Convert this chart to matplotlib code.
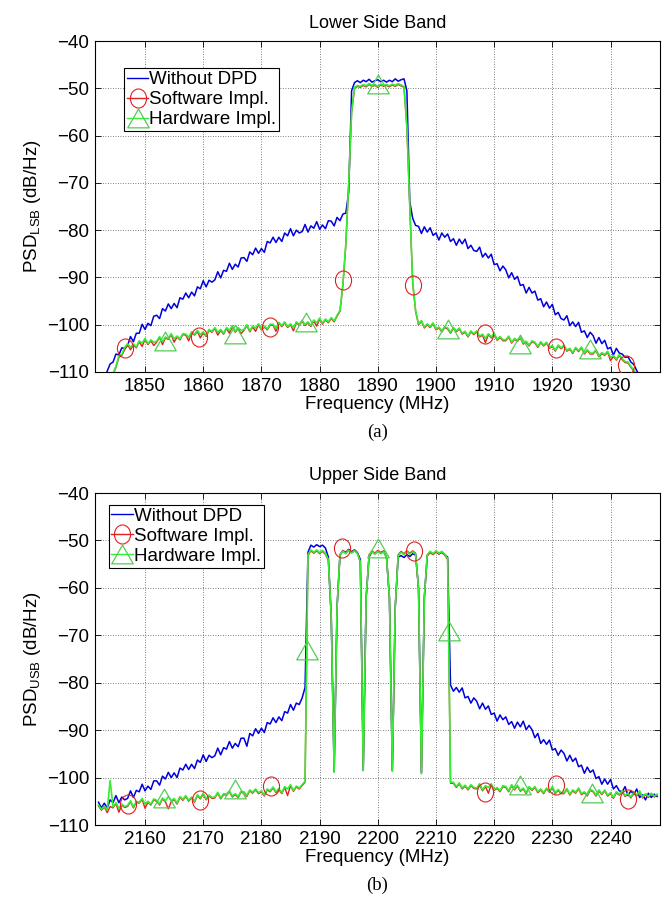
import numpy as np
import matplotlib
matplotlib.use("Agg")
import matplotlib.pyplot as plt
from matplotlib.lines import Line2D
from matplotlib.path import Path
import matplotlib.transforms as mtrans

plt.rcParams['font.family'] = ['Liberation Sans', 'DejaVu Sans']
plt.rcParams['mathtext.fontset'] = 'custom'
plt.rcParams['mathtext.rm'] = 'Liberation Sans'
plt.rcParams['mathtext.it'] = 'Liberation Sans'

# ---------------- Lower side band (0.5 MHz grid from 1842 MHz) ----------------
lsb_start = 1842.0
lsb_blue = [
    -114.0, -113.0, -111.5, -109.8, -108.3, -107.9, -106.2, -106.4, -104.9, -105.0,
    -104.4, -102.5, -103.6, -101.8, -101.8, -99.9, -101.0, -99.7, -100.2, -98.2,
    -98.0, -98.7, -96.6, -97.1, -95.6, -96.6, -95.5, -96.4, -94.3, -94.6,
    -93.3, -94.3, -93.1, -93.9, -92.0, -92.4, -90.7, -92.0, -90.6, -91.0,
    -90.5, -88.8, -90.1, -88.5, -88.7, -87.0, -88.3, -87.2, -87.8, -85.9,
    -85.8, -86.6, -84.6, -85.2, -83.8, -84.9, -83.9, -84.7, -82.4, -82.7,
    -81.5, -82.6, -81.5, -82.4, -80.6, -81.2, -79.7, -81.2, -80.0, -80.6,
    -80.3, -78.8, -80.4, -79.1, -79.6, -78.2, -79.8, -78.9, -79.7, -78.0,
    -78.1, -79.1, -77.3, -78.0, -76.6, -76.4, -72.0, -50.5, -48.8, -48.4,
    -48.8, -48.3, -48.6, -48.1, -48.7, -48.4, -48.2, -48.6, -48.3, -48.7,
    -48.3, -48.6, -48.0, -48.5, -48.2, -48.0, -50.5, -74.0, -77.5, -79.0,
    -79.2, -80.7, -79.3, -80.4, -79.5, -81.1, -80.6, -82.1, -80.6, -81.5,
    -80.8, -82.4, -81.8, -83.2, -81.9, -82.9, -81.9, -83.9, -83.2, -84.3,
    -84.5, -83.6, -85.7, -84.9, -85.9, -85.1, -87.3, -87.1, -88.6, -87.6,
    -88.4, -90.1, -89.0, -90.4, -89.8, -91.7, -91.5, -93.3, -92.1, -93.3,
    -92.9, -94.8, -94.5, -96.2, -95.2, -96.5, -95.7, -97.9, -97.4, -98.7,
    -99.0, -98.1, -100.2, -99.4, -100.4, -99.5, -101.6, -101.3, -102.7, -101.6,
    -102.3, -103.9, -102.7, -104.0, -103.3, -105.1, -104.8, -106.4, -105.0, -106.0,
    -106.2, -106.9, -106.8, -107.9, -108.4, -109.7, -110.8, -112.0, -113.0, -114.0,
    -115.0,
]
lsb_red = [
    -116.3, -115.2, -114.2, -113.1, -112.2, -110.6, -109.0, -106.9, -106.5, -105.3,
    -104.2, -105.3, -104.3, -104.9, -103.6, -104.6, -103.1, -104.2, -103.4, -104.4,
    -103.7, -102.7, -104.2, -102.8, -103.1, -102.1, -103.7, -102.6, -103.2, -102.1,
    -102.2, -103.4, -101.7, -102.2, -101.4, -102.8, -101.7, -102.5, -101.2, -101.6,
    -100.8, -102.2, -101.2, -102.0, -100.8, -101.8, -100.4, -101.6, -100.8, -101.9,
    -101.2, -100.2, -101.5, -100.5, -101.4, -100.0, -101.1, -100.5, -101.1, -100.1,
    -100.1, -101.4, -99.7, -100.4, -99.6, -100.6, -100.0, -101.3, -99.6, -100.1,
    -99.3, -100.2, -99.6, -100.4, -99.2, -100.3, -98.8, -99.9, -99.0, -99.6,
    -98.7, -99.4, -98.2, -97.2, -91.7, -83.2, -70.2, -55.2, -50.0, -49.6,
    -49.8, -49.4, -49.7, -49.2, -49.6, -49.4, -49.8, -49.3, -49.6, -49.4,
    -49.7, -49.3, -49.6, -49.2, -49.5, -49.8, -58.2, -75.2, -91.2, -97.2,
    -100.0, -99.3, -100.7, -100.0, -100.6, -99.8, -101.1, -100.7, -101.5, -100.6,
    -100.9, -101.8, -100.8, -101.5, -100.9, -102.0, -101.6, -102.6, -101.5, -102.1,
    -101.5, -102.6, -102.2, -103.8, -102.1, -102.8, -102.0, -103.3, -102.7, -103.4,
    -103.4, -102.6, -103.9, -103.1, -103.5, -102.8, -104.1, -103.7, -104.5, -103.6,
    -103.9, -104.8, -103.8, -104.5, -103.9, -105.0, -104.6, -105.6, -104.5, -105.1,
    -104.5, -105.6, -105.2, -106.1, -105.0, -105.7, -104.9, -106.2, -105.5, -106.2,
    -106.2, -105.5, -106.8, -106.1, -106.5, -105.8, -107.6, -106.7, -107.5, -106.5,
    -107.4, -108.0, -108.1, -109.0, -109.8, -110.7, -111.7, -112.7, -113.7, -114.7,
    -115.7,
]
lsb_green = [
    -116.0, -115.0, -114.0, -113.0, -112.0, -110.3, -108.8, -106.6, -106.3, -104.8,
    -104.0, -104.8, -104.1, -104.7, -103.4, -103.9, -102.9, -104.0, -103.2, -103.7,
    -103.5, -102.5, -103.6, -102.6, -102.9, -101.9, -103.0, -102.4, -103.0, -101.9,
    -102.0, -102.7, -101.5, -102.0, -101.2, -102.1, -101.5, -102.3, -101.0, -101.4,
    -100.6, -101.6, -101.0, -101.8, -100.6, -101.2, -100.2, -101.4, -100.6, -101.2,
    -101.0, -100.0, -101.3, -100.3, -100.7, -99.8, -100.9, -100.3, -100.9, -99.9,
    -99.9, -100.8, -99.5, -100.2, -99.4, -100.4, -99.8, -100.7, -99.4, -99.9,
    -99.1, -100.0, -99.4, -100.2, -99.0, -99.6, -98.6, -99.7, -98.8, -99.4,
    -98.5, -99.2, -98.0, -97.0, -91.5, -83.0, -70.0, -55.0, -49.8, -49.4,
    -49.6, -49.2, -49.5, -49.0, -49.4, -49.2, -49.6, -49.1, -49.4, -49.2,
    -49.5, -49.1, -49.4, -49.0, -49.3, -49.6, -58.0, -75.0, -91.0, -97.0,
    -99.8, -99.1, -100.5, -99.8, -100.4, -99.6, -100.9, -100.5, -101.3, -100.4,
    -100.7, -101.6, -100.6, -101.3, -100.7, -101.8, -101.4, -102.4, -101.3, -101.9,
    -101.3, -102.4, -102.0, -102.9, -101.9, -102.6, -101.8, -103.1, -102.5, -103.2,
    -103.2, -102.4, -103.7, -102.9, -103.3, -102.6, -103.9, -103.5, -104.3, -103.4,
    -103.7, -104.6, -103.6, -104.3, -103.7, -104.8, -104.4, -105.4, -104.3, -104.9,
    -104.3, -105.4, -105.0, -105.9, -104.8, -105.5, -104.7, -106.0, -105.3, -106.0,
    -106.0, -105.3, -106.6, -105.9, -106.3, -105.6, -106.9, -106.5, -107.3, -106.3,
    -107.2, -107.8, -107.9, -108.8, -109.6, -110.5, -111.5, -112.5, -113.5, -114.5,
    -115.5,
]
lsb_circ_f = [1846.5, 1859.3, 1871.5, 1884.0, 1896.1, 1908.4, 1920.6, 1932.6]
lsb_circ_v = [-105.0, -102.5, -100.5, -90.6, -91.5, -102.0, -105.0, -108.5]
lsb_tri_f = [1853.4, 1865.5, 1877.6, 1890.0, 1902.1, 1914.4, 1926.5]
lsb_tri_v = [-103.5, -102.0, -99.5, -49.0, -101.0, -104.0, -105.2]

# ---------------- Upper side band (0.5 MHz grid from 2152 MHz) ----------------
usb_start = 2152.0
usb_blue = [
    -105.2, -106.4, -105.4, -106.4, -104.7, -105.3, -103.8, -105.3, -104.1, -104.7,
    -104.4, -102.8, -104.2, -102.7, -103.0, -101.4, -102.8, -101.8, -102.5, -100.7,
    -100.7, -101.6, -99.7, -100.3, -98.9, -100.0, -99.0, -100.0, -98.0, -98.4,
    -97.2, -98.3, -97.2, -98.1, -96.3, -96.8, -95.2, -96.6, -95.3, -95.8,
    -95.4, -93.8, -95.2, -93.7, -94.0, -92.4, -93.8, -92.8, -93.5, -91.7,
    -91.7, -93.4, -90.7, -91.2, -89.7, -90.7, -89.6, -90.5, -88.4, -88.7,
    -87.4, -88.4, -87.2, -88.0, -86.1, -86.4, -84.6, -85.8, -84.3, -84.6,
    -83.2, -81.0, -52.5, -51.0, -51.4, -50.9, -51.3, -51.0, -51.6, -53.5,
    -66.0, -98.8, -64.0, -53.0, -52.2, -52.5, -51.9, -52.4, -52.0, -52.6,
    -54.0, -98.5, -62.0, -53.5, -52.4, -52.8, -52.2, -52.6, -52.3, -53.5,
    -62.0, -98.5, -64.0, -53.5, -53.2, -53.6, -53.0, -53.4, -52.8, -53.1,
    -60.0, -99.0, -62.0, -53.2, -52.5, -52.9, -52.4, -52.8, -52.5, -53.0,
    -53.5, -80.5, -81.8, -81.0, -82.0, -81.1, -83.2, -82.9, -84.3, -83.2,
    -83.9, -85.5, -84.3, -85.6, -84.9, -86.7, -86.4, -88.1, -86.8, -87.8,
    -87.2, -88.8, -88.2, -89.6, -88.3, -89.3, -88.1, -89.9, -89.0, -89.9,
    -91.6, -90.7, -92.8, -92.0, -93.0, -92.1, -94.2, -93.9, -95.3, -94.2,
    -94.9, -96.5, -95.3, -96.6, -95.9, -97.7, -97.4, -99.1, -97.8, -98.9,
    -98.4, -100.2, -99.8, -101.4, -100.3, -101.4, -100.4, -102.4, -101.7, -102.8,
    -103.0, -101.9, -103.8, -102.8, -103.6, -102.4, -104.2, -103.6, -104.7, -103.3,
    -104.2, -103.5, -104.0,
]
usb_red = [
    -106.0, -106.9, -106.2, -107.4, -106.1, -106.4, -105.5, -107.3, -105.8, -106.3,
    -106.1, -105.1, -106.4, -105.2, -105.4, -104.6, -106.5, -105.2, -105.8, -104.7,
    -105.0, -105.8, -104.5, -105.1, -106.6, -105.1, -104.6, -105.6, -104.2, -104.8,
    -104.0, -105.0, -104.3, -105.2, -103.8, -104.5, -103.5, -104.7, -103.9, -104.4,
    -104.3, -103.3, -104.5, -103.6, -103.7, -103.0, -104.1, -103.6, -104.2, -103.1,
    -103.2, -104.0, -102.8, -103.3, -102.6, -103.4, -103.0, -103.9, -102.6, -103.0,
    -102.2, -103.2, -102.5, -103.4, -102.1, -103.8, -101.7, -102.9, -102.0, -102.4,
    -101.7, -101.0, -53.2, -52.2, -52.7, -52.2, -52.8, -52.3, -52.9, -54.2,
    -66.2, -98.6, -64.2, -53.2, -52.1, -52.6, -51.9, -52.5, -52.0, -52.6,
    -54.7, -98.3, -62.2, -53.0, -52.2, -52.7, -52.1, -52.6, -52.2, -53.7,
    -62.2, -98.5, -64.2, -53.0, -52.3, -52.8, -52.2, -52.7, -52.2, -52.7,
    -60.2, -99.0, -62.2, -53.2, -52.5, -53.0, -52.4, -52.9, -52.5, -53.1,
    -54.0, -101.2, -101.2, -102.1, -101.3, -102.4, -101.8, -102.6, -101.7, -102.3,
    -102.4, -101.5, -102.8, -101.9, -103.3, -101.5, -102.7, -102.3, -103.0, -101.9,
    -102.1, -103.0, -101.7, -102.6, -101.8, -102.9, -102.4, -103.4, -102.1, -102.7,
    -102.1, -103.2, -102.6, -103.4, -102.4, -103.1, -102.1, -103.4, -102.7, -103.4,
    -103.4, -102.5, -103.7, -102.8, -103.3, -102.4, -103.6, -103.2, -103.9, -102.7,
    -103.0, -103.9, -102.8, -103.6, -102.8, -103.9, -103.4, -104.4, -103.2, -103.7,
    -103.0, -104.0, -103.5, -104.3, -103.3, -103.9, -103.0, -104.3, -103.6, -104.2,
    -103.5, -104.1, -103.7,
]
usb_green = [
    -105.8, -106.7, -106.0, -106.9, -100.6, -106.2, -105.3, -106.5, -105.6, -106.1,
    -105.9, -104.9, -106.2, -105.0, -105.2, -104.4, -105.6, -105.0, -105.6, -104.5,
    -104.8, -105.6, -104.3, -104.9, -104.0, -104.9, -104.4, -105.4, -104.0, -104.6,
    -103.8, -104.8, -104.1, -105.0, -103.6, -104.3, -103.3, -104.5, -103.7, -104.2,
    -104.1, -103.1, -104.3, -103.4, -103.5, -102.8, -103.9, -103.4, -104.0, -102.9,
    -103.0, -103.8, -102.6, -103.1, -102.4, -103.2, -102.8, -103.7, -102.4, -102.8,
    -102.0, -103.0, -102.3, -103.2, -101.9, -102.4, -101.5, -102.7, -101.8, -102.2,
    -101.5, -100.8, -53.0, -52.0, -52.5, -52.0, -52.6, -52.1, -52.7, -54.0,
    -66.0, -98.8, -64.0, -53.0, -52.3, -52.8, -52.1, -52.7, -52.2, -52.8,
    -54.5, -98.5, -62.0, -53.2, -52.4, -52.9, -52.3, -52.8, -52.4, -53.5,
    -62.0, -98.7, -64.0, -53.2, -52.5, -53.0, -52.4, -52.9, -52.4, -52.9,
    -60.0, -99.2, -62.0, -53.0, -52.3, -52.8, -52.2, -52.7, -52.3, -52.9,
    -53.8, -101.0, -101.0, -101.9, -101.1, -102.2, -101.6, -102.4, -101.5, -102.1,
    -102.2, -101.3, -102.6, -101.7, -102.1, -101.3, -102.5, -102.1, -102.8, -101.7,
    -101.9, -102.8, -101.5, -102.4, -101.6, -102.7, -102.2, -103.2, -101.9, -102.5,
    -101.9, -103.0, -102.4, -103.2, -102.2, -102.9, -101.9, -103.2, -102.5, -103.2,
    -103.2, -102.3, -103.5, -102.6, -103.1, -102.2, -103.4, -103.0, -103.7, -102.5,
    -102.8, -103.7, -102.6, -103.4, -102.6, -103.7, -103.2, -104.2, -103.0, -103.5,
    -102.8, -103.8, -103.3, -104.1, -103.1, -103.7, -102.8, -104.1, -103.4, -104.0,
    -103.3, -103.9, -103.5,
]
usb_circ_f = [2157.0, 2169.4, 2181.6, 2193.9, 2206.2, 2218.5, 2230.6, 2243.0]
usb_circ_v = [-105.5, -104.8, -101.8, -51.5, -52.3, -103.0, -101.5, -104.5]
usb_tri_f = [2163.3, 2175.5, 2187.8, 2200.0, 2212.3, 2224.5, 2236.8]
usb_tri_v = [-104.3, -102.5, -73.0, -51.5, -69.0, -101.5, -103.3]

yticks = [-40, -50, -60, -70, -80, -90, -100, -110]
lsb_xticks = [1850, 1860, 1870, 1880, 1890, 1900, 1910, 1920, 1930]
usb_xticks = [2160, 2170, 2180, 2190, 2200, 2210, 2220, 2230, 2240]
legend_labels = ['Without DPD', 'Software Impl.', 'Hardware Impl.']

C_BLUE = '#0000dd'
C_RED = '#e02020'
C_GREEN = '#33ee33'
C_TRI = '#55cc55'

# slightly tall circle and wide triangle markers (as in the original figure)
M_CIRC = Path.unit_circle().transformed(mtrans.Affine2D().scale(1.0, 1.18))
M_TRI = Path([(0, 1), (-1.15, -1), (1.15, -1), (0, 1)],
             [Path.MOVETO, Path.LINETO, Path.LINETO, Path.CLOSEPOLY])
MS_C = 13.7
MS_T = 15.5

fig = plt.figure(figsize=(6.68, 9.01), dpi=100)
ax1 = fig.add_axes([95/668, 1 - 372/901, 565/668, 331/901])
ax2 = fig.add_axes([95/668, 1 - 825/901, 565/668, 332/901])


def draw(ax, start, blue, red, green, cf, cv, tf, tv, xticks, xlim, title, sub, lab, leg_anchor):
    fb = start + 0.5 * np.arange(len(blue))
    fr = start + 0.5 * np.arange(len(red))
    fg = start + 0.5 * np.arange(len(green))
    ax.plot(fb, blue, color=C_BLUE, lw=1.1, zorder=2)
    ax.plot(fr, red, color=C_RED, lw=1.0, zorder=3)
    ax.plot(fg, green, color=C_GREEN, lw=1.2, zorder=4)
    ax.plot(cf, cv, ls='none', marker=M_CIRC, ms=MS_C, mfc='none', mec=C_RED, mew=0.8, zorder=5)
    ax.plot(tf, tv, ls='none', marker=M_TRI, ms=MS_T, mfc='none', mec=C_TRI, mew=0.9, zorder=5)
    ax.set_xlim(*xlim)
    ax.set_ylim(-110, -40)
    ax.set_xticks(xticks)
    ax.set_yticks(yticks)
    ax.set_yticklabels(['\u2212%d' % abs(v) for v in yticks])
    ax.tick_params(direction='in', top=True, right=True, labelsize=13.5, length=4, width=0.6,
                   pad=4)
    ax.grid(True, ls=(0, (1, 2)), color='#555555', lw=0.6)
    for s in ax.spines.values():
        s.set_linewidth(0.8)
    ax.set_title(title, fontsize=13, pad=9)
    ax.set_xlabel('Frequency (MHz)', fontsize=13.5, labelpad=1)
    ax.set_ylabel(lab, fontsize=13.5, labelpad=3)
    ax.text(0.5, -0.181, sub, transform=ax.transAxes, ha='center', va='center',
            fontsize=13.5, family='Liberation Serif')
    handles = [
        Line2D([], [], color=C_BLUE, lw=1.0),
        Line2D([], [], color=C_RED, lw=1.0, marker=M_CIRC, ms=MS_C, mfc='none', mec=C_RED, mew=0.8),
        Line2D([], [], color=C_GREEN, lw=1.0, marker=M_TRI, ms=MS_T, mfc='none', mec=C_TRI, mew=0.9),
    ]
    leg = ax.legend(handles, legend_labels, loc='upper left', bbox_to_anchor=leg_anchor,
                    fontsize=13.5, handlelength=1.15, handletextpad=0.05, borderpad=0.15,
                    labelspacing=0.15, borderaxespad=0, fancybox=False, framealpha=1,
                    edgecolor='black')
    leg.get_frame().set_linewidth(0.8)


draw(ax1, lsb_start, lsb_blue, lsb_red, lsb_green, lsb_circ_f, lsb_circ_v, lsb_tri_f, lsb_tri_v,
     lsb_xticks, (1841.4, 1938.5), 'Lower Side Band', '(a)',
     'PSD$_{\\mathrm{LSB}}$ (dB/Hz)', (0.0515, 0.917))
draw(ax2, usb_start, usb_blue, usb_red, usb_green, usb_circ_f, usb_circ_v, usb_tri_f, usb_tri_v,
     usb_xticks, (2151.4, 2248.5), 'Upper Side Band', '(b)',
     'PSD$_{\\mathrm{USB}}$ (dB/Hz)', (0.024, 0.964))

fig.savefig('out.png', dpi=100)
